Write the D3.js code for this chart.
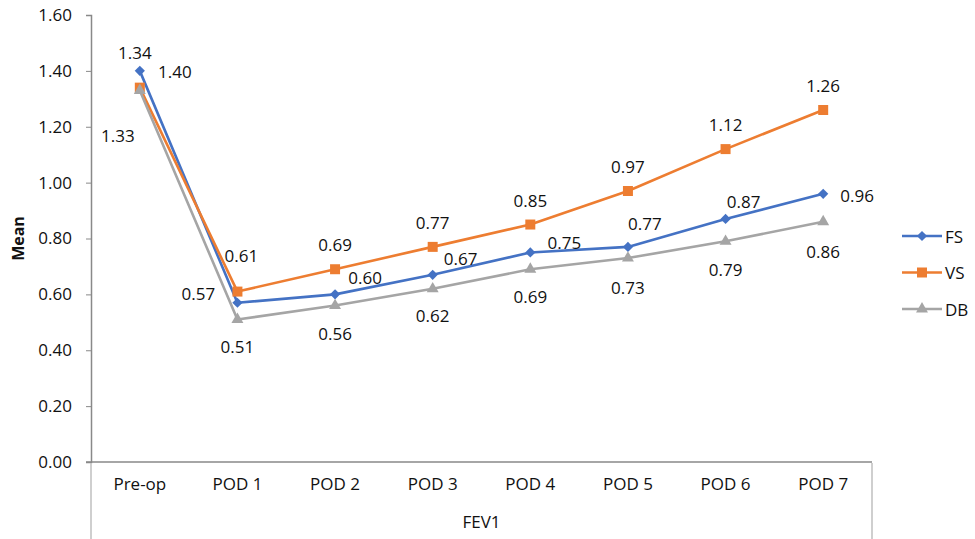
<!DOCTYPE html>
<html>
<head>
<meta charset="UTF-8">
<title>FEV1 mean</title>
<style>
  body { margin: 0; background: #fff; }
  text { font-family: "Open Sans", "Liberation Sans", sans-serif; fill: #111; }
</style>
</head>
<body>
<div id="chart"></div>
<script src="https://d3js.org/d3.v7.min.js"></script>
<script>
// data
var categories = ["Pre-op", "POD 1", "POD 2", "POD 3", "POD 4", "POD 5", "POD 6", "POD 7"];
var fsValues = [1.40, 0.57, 0.60, 0.67, 0.75, 0.77, 0.87, 0.96];
var vsValues = [1.34, 0.61, 0.69, 0.77, 0.85, 0.97, 1.12, 1.26];
var dbValues = [1.33, 0.51, 0.56, 0.62, 0.69, 0.73, 0.79, 0.86];
var yTicks = [0, 0.2, 0.4, 0.6, 0.8, 1.0, 1.2, 1.4, 1.6];
var xTitle = "FEV1";
var yTitle = "Mean";

// label nudges (pixels from the point to the label centre), as Excel placed them
var fsLabelPos = [[35, 1], [-39, -9], [30, -17], [28, -16], [34, -10], [17, -23], [18, -17], [34, 2]];
var vsLabelPos = [[-5, -35], [4, -36], [0, -25], [0, -24], [0, -24], [0, -25], [0, -25], [0, -24]];
var dbLabelPos = [[-22, 45], [0, 27], [0, 28], [0, 27], [0, 27], [0, 29], [0, 28], [0, 30]];

var series = [
  { name: "FS", values: fsValues, color: "#4472C4", shape: "diamond", labels: fsLabelPos },
  { name: "VS", values: vsValues, color: "#ED7D31", shape: "square", labels: vsLabelPos },
  { name: "DB", values: dbValues, color: "#A5A5A5", shape: "triangle", labels: dbLabelPos }
];

var width = 975, height = 539;
var plot = { left: 91, right: 872, top: 15, bottom: 462 };

var svg = d3.select("#chart").append("svg")
  .attr("width", width)
  .attr("height", height);

var x = d3.scaleBand()
  .domain(categories)
  .range([plot.left, plot.right]);

var y = d3.scaleLinear()
  .domain([0, 1.6])
  .range([plot.bottom, plot.top]);

function cx(i) { return x(categories[i]) + x.bandwidth() / 2; }

// y axis
var yAxis = d3.axisLeft(y)
  .tickValues(yTicks)
  .tickFormat(d3.format(".2f"))
  .tickSize(5)
  .tickPadding(14);

var gy = svg.append("g")
  .attr("transform", "translate(" + plot.left + ",0)")
  .call(yAxis);
gy.select(".domain").attr("stroke", "#898989").attr("stroke-width", 1.5);
gy.selectAll(".tick line").attr("stroke", "#898989").attr("stroke-width", 1);
gy.selectAll(".tick text").style("font-size", "17px").attr("fill", "#111");

// x axis (category labels only, no ticks)
var xAxis = d3.axisBottom(x).tickSize(0).tickPadding(16);
var gx = svg.append("g")
  .attr("transform", "translate(0," + plot.bottom + ")")
  .call(xAxis);
gx.select(".domain").remove();
gx.selectAll(".tick text").style("font-size", "17px").attr("fill", "#111");

svg.append("line")
  .attr("x1", plot.left - 5).attr("x2", plot.right)
  .attr("y1", plot.bottom).attr("y2", plot.bottom)
  .attr("stroke", "#898989").attr("stroke-width", 1.5);

// group separators of the category axis
[plot.left, plot.right].forEach(function(px) {
  svg.append("line")
    .attr("x1", px).attr("x2", px)
    .attr("y1", plot.bottom + 1).attr("y2", height)
    .attr("stroke", "#bfbfbf").attr("stroke-width", 1.5);
});

svg.append("text")
  .attr("x", (plot.left + plot.right) / 2)
  .attr("y", 528)
  .attr("text-anchor", "middle")
  .style("font-size", "17px")
  .text(xTitle);

svg.append("text")
  .attr("transform", "translate(24," + ((plot.top + plot.bottom) / 2) + ") rotate(-90)")
  .attr("text-anchor", "middle")
  .style("font-size", "16px")
  .style("font-weight", "bold")
  .text(yTitle);

// markers
function markerPath(shape) {
  if (shape === "diamond") return d3.symbol().type(d3.symbolSquare).size(52)();
  if (shape === "square") return d3.symbol().type(d3.symbolSquare).size(100)();
  return d3.symbol().type(d3.symbolTriangle).size(62)();
}
function markerRotate(shape) { return shape === "diamond" ? " rotate(45)" : ""; }

var line = d3.line()
  .x(function(d, i) { return cx(i); })
  .y(function(d) { return y(d); });

var gSeries = svg.append("g");
series.forEach(function(s) {
  var g = gSeries.append("g");
  g.append("path")
    .datum(s.values)
    .attr("d", line)
    .attr("fill", "none")
    .attr("stroke", s.color)
    .attr("stroke-width", 2.6)
    .attr("stroke-linejoin", "round");
  g.selectAll("path.pt")
    .data(s.values)
    .join("path")
    .attr("class", "pt")
    .attr("d", markerPath(s.shape))
    .attr("transform", function(d, i) {
      return "translate(" + cx(i) + "," + y(d) + ")" + markerRotate(s.shape);
    })
    .attr("fill", s.color);
});

// data labels on top
series.forEach(function(s) {
  svg.append("g").selectAll("text")
    .data(s.values)
    .join("text")
    .attr("x", function(d, i) { return cx(i) + s.labels[i][0]; })
    .attr("y", function(d, i) { return y(d) + s.labels[i][1]; })
    .attr("text-anchor", "middle")
    .attr("dominant-baseline", "central")
    .style("font-size", "17px")
    .text(function(d) { return d3.format(".2f")(d); });
});

// legend
var legend = svg.append("g").selectAll("g")
  .data(series)
  .join("g")
  .attr("transform", function(d, i) { return "translate(902," + (236 + i * 36.5) + ")"; });
legend.append("line")
  .attr("x1", 0).attr("x2", 40)
  .attr("stroke", function(d) { return d.color; })
  .attr("stroke-width", 2.6);
legend.append("path")
  .attr("d", function(d) { return markerPath(d.shape); })
  .attr("transform", function(d) { return "translate(20,0)" + markerRotate(d.shape); })
  .attr("fill", function(d) { return d.color; });
legend.append("text")
  .attr("x", 43)
  .attr("dominant-baseline", "central")
  .style("font-size", "17px")
  .text(function(d) { return d.name; });
</script>
</body>
</html>
